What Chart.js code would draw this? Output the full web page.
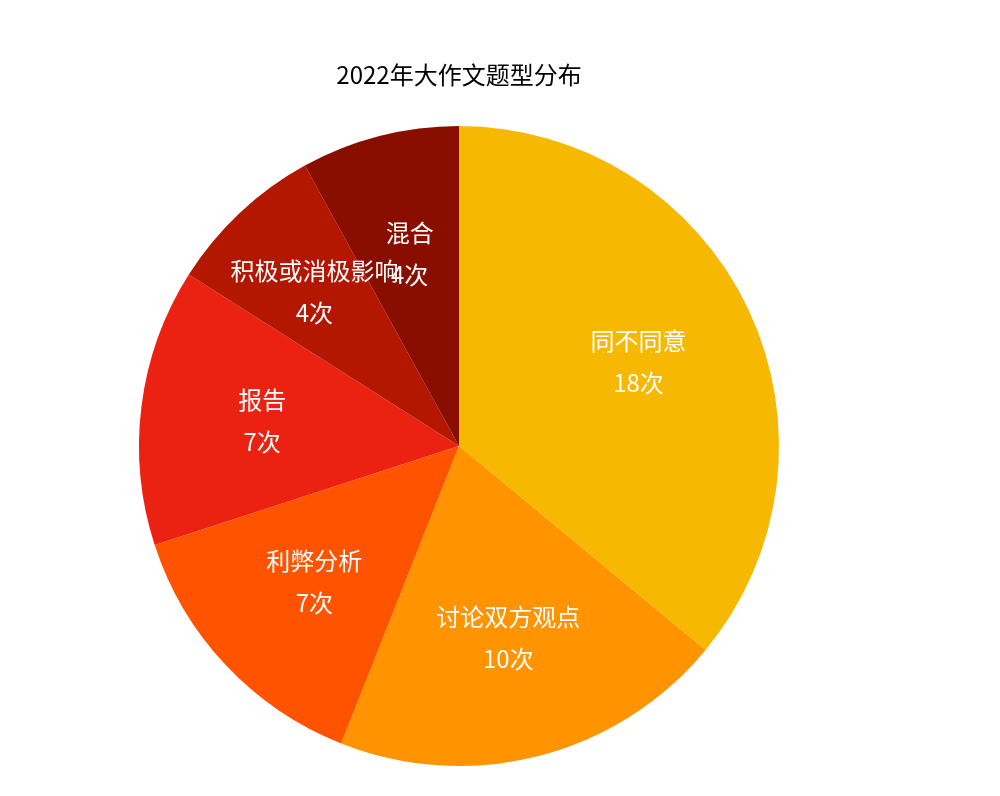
<!DOCTYPE html>
<html><head><meta charset="utf-8">
<script src="https://cdn.jsdelivr.net/npm/chart.js@4"></script>
<style>html,body{margin:0;padding:0;background:#fff}#w{width:1000px;height:796px}</style>
</head><body><div id="w"><canvas id="c"></canvas></div>
<script>
const titleText = '2022年大作文题型分布';
const categories = ['同不同意','讨论双方观点','利弊分析','报告','积极或消极影响','混合'];
const counts = [18,10,7,7,4,4];
const colors = ['#F6B800','#FF9400','#FF5300','#EB2212','#B31700','#8A0E00'];
const font = '"Noto Sans CJK SC", "PingFang SC", sans-serif';
const labelPlugin = {
  id:'lbl',
  afterDraw(chart){
    const ctx = chart.ctx;
    ctx.save();
    ctx.fillStyle='#000'; ctx.font='24px '+font; ctx.textAlign='center'; ctx.textBaseline='middle';
    ctx.fillText(titleText, 459, 75);
    const meta = chart.getDatasetMeta(0);
    meta.data.forEach((arc,i)=>{
      const p = arc.getProps(['x','y','startAngle','endAngle','outerRadius'],true);
      const a = (p.startAngle+p.endAngle)/2;
      const r = p.outerRadius*(i===4?0.66:0.62);
      const x = p.x+Math.cos(a)*r, y = p.y+Math.sin(a)*r;
      ctx.fillStyle='#fff'; ctx.font='24px '+font;
      ctx.fillText(categories[i], x, y-21);
      ctx.fillText(counts[i]+'次', x, y+21);
    });
    ctx.restore();
  }
};
new Chart(document.getElementById('c'),{
  type:'pie',
  data:{labels:categories,datasets:[{data:counts,backgroundColor:colors,borderWidth:0}]},
  options:{responsive:true,maintainAspectRatio:false,animation:false,
    layout:{padding:{top:126,bottom:30,left:0,right:82}},
    plugins:{legend:{display:false},tooltip:{enabled:false},title:{display:false}}},
  plugins:[labelPlugin]
});
</script></body></html>
